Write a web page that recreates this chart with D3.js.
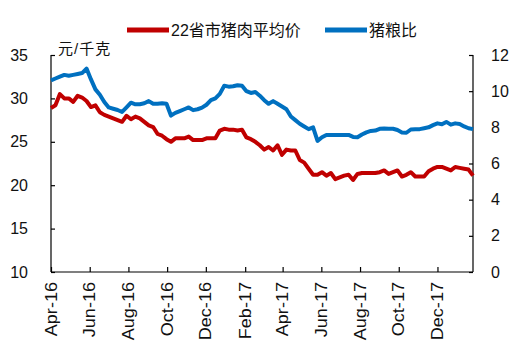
<!DOCTYPE html>
<html><head><meta charset="utf-8">
<script src="https://cdn.jsdelivr.net/npm/d3@7"></script>
<style>html,body{margin:0;padding:0;background:#fff;}svg{display:block;}</style>
</head><body>
<svg id="c" width="520" height="351"></svg>
<script>
const startDate = "2016-04-01";
const porkPrice = [28.9,29.2,30.5,30.0,30.0,29.6,30.3,30.1,29.7,29.0,
 29.2,28.4,28.1,27.9,27.7,27.5,27.3,28.0,27.6,27.9,
 27.7,27.3,26.9,26.7,25.9,25.7,25.3,25.0,25.4,25.4,
 25.4,25.6,25.2,25.2,25.2,25.4,25.4,25.4,26.3,26.5,
 26.4,26.4,26.3,26.4,25.5,25.3,25.0,24.6,24.1,24.4,
 24.0,24.6,23.5,24.1,24.0,24.0,22.9,22.6,21.9,21.2,
 21.2,21.5,21.1,21.4,20.7,20.9,21.1,21.2,20.6,21.3,
 21.4,21.4,21.4,21.4,21.5,21.7,21.3,21.5,21.7,21.0,
 21.2,21.5,21.0,21.0,21.0,21.6,21.9,22.1,22.1,21.9,
 21.7,22.1,22.0,21.9,21.8,21.1];
const hogGrainRatio = [10.6,10.7,10.8,10.9,10.85,10.9,10.95,11.0,11.25,10.65,
 10.1,9.8,9.4,9.1,9.03,8.96,8.85,9.1,9.36,9.27,
 9.28,9.33,9.45,9.3,9.3,9.33,9.3,8.65,8.8,8.9,
 9.0,9.1,8.95,9.0,9.09,9.25,9.5,9.6,9.85,10.3,
 10.25,10.27,10.33,10.3,10.0,9.9,9.95,9.75,9.5,9.3,
 9.45,9.3,9.15,9.0,8.6,8.4,8.2,8.05,7.9,8.0,
 7.25,7.45,7.58,7.58,7.58,7.58,7.58,7.58,7.47,7.45,
 7.6,7.72,7.8,7.82,7.92,7.94,7.92,7.92,7.85,7.72,
 7.7,7.88,7.9,7.9,7.95,8.0,8.12,8.22,8.17,8.3,
 8.15,8.22,8.18,8.05,7.95,7.9];
const xTickLabels = ["Apr-16","Jun-16","Aug-16","Oct-16","Dec-16","Feb-17","Apr-17","Jun-17","Aug-17","Oct-17","Dec-17"];
const leftTicks = [10,15,20,25,30,35];
const rightTicks = [0,2,4,6,8,10,12];
const seriesNames = ["22省市猪肉平均价","猪粮比"];
const unitLabel = "元/千克";

const colors = ["#c00000","#0070c0"];
const font = "'Liberation Sans', Arial, 'Noto Sans CJK SC', sans-serif";
const L = 51, R = 473, T = 55, B = 272;

const parseDay = d3.timeParse("%Y-%m-%d");
const parseTick = d3.timeParse("%b-%y");
const t0 = parseDay(startDate);
const dates = porkPrice.map((_, i) => d3.timeDay.offset(t0, 7 * i));

const svg = d3.select("#c").style("font-family", font);
const x = d3.scaleTime().domain([dates[0], dates[dates.length - 1]]).range([L, R]);
const yL = d3.scaleLinear().domain([10, 35]).range([B, T]);
const yR = d3.scaleLinear().domain([0, 12]).range([B, T]);

// axes
const gL = svg.append("g").attr("transform", `translate(${L},0)`)
  .call(d3.axisRight(yL).tickValues(leftTicks).tickSize(4).tickFormat(""));
const gR = svg.append("g").attr("transform", `translate(${R},0)`)
  .call(d3.axisLeft(yR).tickValues(rightTicks).tickSize(4).tickFormat(""));
const gX = svg.append("g").attr("transform", `translate(0,${B})`)
  .call(d3.axisTop(x).tickValues(xTickLabels.map(parseTick)).tickSize(5).tickFormat(""));
[gL, gR, gX].forEach(g => {
  g.selectAll("path.domain").attr("stroke", "#000").attr("stroke-width", 1.2);
  g.selectAll(".tick line").attr("stroke", "#000").attr("stroke-width", 1.2);
});
gL.select("path.domain").attr("d", `M0,${T}V${B}`);
gR.select("path.domain").attr("d", `M0,${T}V${B}`);
gX.select("path.domain").attr("d", `M${L},0H${R}`);

// tick labels
svg.append("g").selectAll("text").data(leftTicks).join("text")
  .attr("x", 28).attr("y", d => yL(d)).attr("dy", "0.35em")
  .attr("text-anchor", "end").attr("font-size", 16).attr("fill", "#111").text(d => d);
svg.append("g").selectAll("text").data(rightTicks).join("text")
  .attr("x", 491).attr("y", d => yR(d)).attr("dy", "0.35em")
  .attr("text-anchor", "start").attr("font-size", 16).attr("fill", "#111").text(d => d);
svg.append("g").selectAll("text").data(xTickLabels).join("text")
  .attr("transform", d => `translate(${x(parseTick(d))},${B + 10}) rotate(-90) scale(1.13,1)`)
  .attr("dy", "0.35em").attr("text-anchor", "end").attr("font-size", 16).attr("fill", "#111").text(d => d);

// unit
svg.append("text").attr("x", 58).attr("y", 54).attr("font-size", 15).attr("fill", "#111")
  .attr("letter-spacing", 1).text(unitLabel);

// lines
const series = [
  {values: porkPrice, y: yL, color: colors[0]},
  {values: hogGrainRatio, y: yR, color: colors[1]}
];
series.forEach(s => {
  const line = d3.line().x((d, i) => x(dates[i])).y(d => s.y(d));
  svg.append("path").datum(s.values).attr("d", line)
    .attr("fill", "none").attr("stroke", s.color).attr("stroke-width", 4)
    .attr("stroke-linejoin", "round");
});

// legend
const legend = [
  {name: seriesNames[0], color: colors[0], x: 127},
  {name: seriesNames[1], color: colors[1], x: 325}
];
const lg = svg.append("g");
legend.forEach(l => {
  lg.append("line").attr("x1", l.x).attr("x2", l.x + 42).attr("y1", 30).attr("y2", 30)
    .attr("stroke", l.color).attr("stroke-width", 5);
  lg.append("text").attr("x", l.x + 44).attr("y", 30).attr("dy", "0.36em")
    .attr("font-size", 16).attr("fill", "#111").text(l.name);
});
</script>
</body></html>
